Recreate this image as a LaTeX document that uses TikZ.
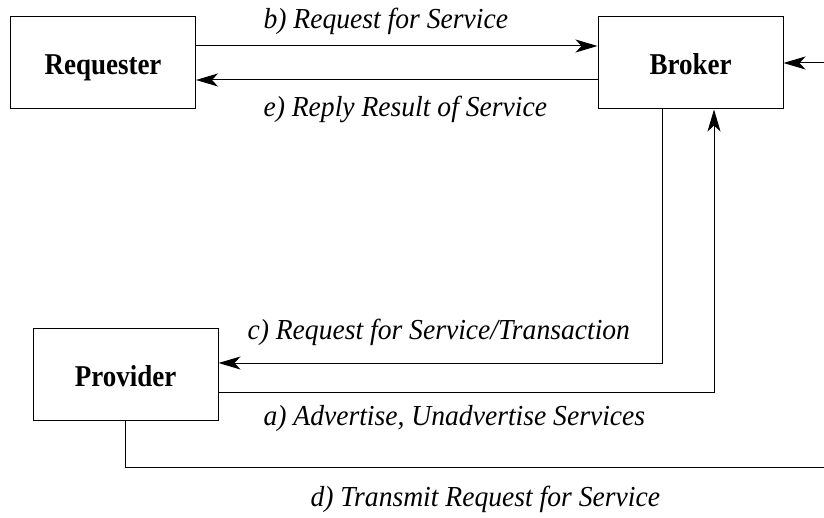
\documentclass[tikz,border=0pt]{standalone}
\usepackage{fontspec}
\setmainfont{Liberation Serif}
\usetikzlibrary{arrows.meta}
\usetikzlibrary{calc}

% texto algo estirado en vertical, como en el original
\newcommand{\boxtxt}[1]{\scalebox{1}[1.12]{#1}}
\newcommand{\lbltxt}[1]{\scalebox{1}[1.05]{#1}}

\tikzset{
    box/.style={draw, line width=0.5pt, minimum width=92.5pt, minimum height=46pt,
        inner sep=0pt, text height=12pt, text depth=0pt,
        font=\bfseries\fontsize{13.5}{15}\selectfont},
    lbl/.style={anchor=west, inner sep=0pt, font=\itshape\fontsize{13.8}{16}\selectfont},
    arr/.style={-{Stealth[length=11pt, width=6.5pt, inset=3pt]}}
}

\begin{document}
\begin{tikzpicture}[x=0.5pt, y=-0.5pt, line width=0.5pt]
    \useasboundingbox (0,0) rectangle (824,518);

    % Cajas
    \node[box] (Requester) at (103,63) {\boxtxt{Requester}};
    \node[box] (Broker) at (690.5,63) {\boxtxt{Broker}};
    \node[box] (Provider) at (125.5,374.5) {\boxtxt{Provider}};

    % Extremos en el borde derecho
    \coordinate (R) at (824,63);
    \coordinate (D) at (824,467);

    % Requester <-> Broker
    \draw[arr] ($(Requester.east)+(0,-17)$) -- ($(Broker.west)+(0,-17)$);
    \draw[arr] ($(Broker.west)+(0,17)$) -- ($(Requester.east)+(0,17)$);
    \node[lbl] at (263,21) {\lbltxt{b) Request for Service}};
    \node[lbl] at (263,109) {\lbltxt{e) Reply Result of Service}};

    % Broker <-> Provider
    \draw[arr] ($(Broker.south)+(-28.5,0)$) |- ($(Provider.east)+(0,-11.5)$);
    \draw[arr] ($(Provider.east)+(0,17.5)$) -| ($(Broker.south)+(23.5,0)$);
    \node[lbl] at (247,332) {\lbltxt{c) Request for Service/Transaction}};
    \node[lbl] at (263,419) {\lbltxt{a) Advertise, Unadvertise Services}};

    % Provider -> Broker (por fuera)
    \draw (Provider.south) |- (D);
    \draw[arr] (R) -- (Broker.east);
    \node[lbl] at (310,499) {\lbltxt{d) Transmit Request for Service}};
\end{tikzpicture}
\end{document}
